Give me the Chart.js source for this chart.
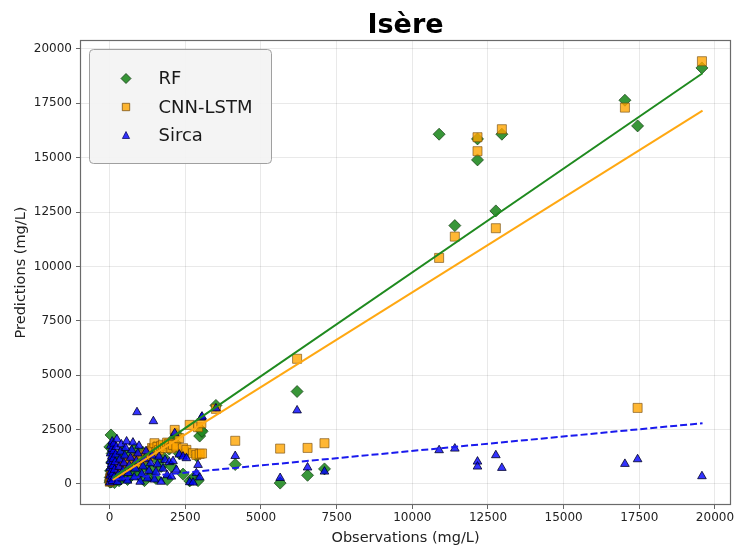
<!DOCTYPE html>
<html>
<head>
<meta charset="utf-8">
<script src="https://cdn.jsdelivr.net/npm/chart.js@4/dist/chart.umd.min.js"></script>
<style>
  body { margin: 0; background: #fff; }
  #wrap { width: 734px; height: 548px; }
</style>
</head>
<body>
<div id="wrap"><canvas id="chart" width="734" height="548"></canvas></div>
<script>
// observed concentrations (mg/L) and what each model predicted for them
var observations = [
  5, 12, 18, 24, 30, 38, 45, 52, 60, 68, 75, 83, 90, 98, 105, 115, 125, 135, 145, 160,
  180, 200, 220, 240, 260, 285, 310, 335, 360, 385, 410, 440, 470, 500,
  530, 560, 590, 620, 650, 690, 730, 770, 810, 850, 880, 903,
  930, 970, 1010, 1060, 1100, 1150, 1200, 1250, 1300,
  1350, 1400, 1444, 1480, 1530, 1580, 1630, 1700, 1760, 1830, 1900, 1970,
  2039, 2094, 2149, 2204, 2300, 2424, 2535, 2645, 2755, 2865, 2920, 2975, 3031, 3052,
  3511, 4149, 5633, 6193, 6539, 7098,
  10886, 11405, 12154, 12154, 12760, 12959, 17025, 17444, 19570
];
var rfPred = [
  1700, 80, 300, 150, 600, 200, 2250, 90, 450, 1000, 250, 1400, 120, 700, 350, 180, 900, 500, 1200, 60,
  300, 1100, 200, 650, 400, 900, 150, 1300, 550, 250, 800, 1500, 350, 700,
  450, 1000, 200, 1250, 600, 350, 1100, 800, 1600, 500, 950, 750,
  1300, 400, 1000, 700, 1450, 150, 900, 1200, 350,
  1550, 600, 1500, 1700, 250, 1100, 1650, 800, 1250, 1800, 200, 1600,
  796, 2050, 1900, 2300, 1400, 450, 1500, 138, 262, 1300, 150, 2200, 2451, 2414,
  3609, 892, 37, 4248, 395, 690,
  16078, 11876, 15862, 14897, 12552, 16078, 17641, 16460, 19126
];
var cnnPred = [
  100, 150, 220, 180, 300, 260, 350, 200, 400, 320, 450, 280, 380, 500, 420, 550, 480, 600, 350, 650,
  500, 700, 450, 600, 650, 550, 750, 600, 800, 700, 650, 850, 750, 900,
  800, 950, 850, 1000, 900, 1050, 950, 1100, 1000, 1150, 1050, 950,
  1100, 1200, 1150, 1250, 1300, 1200, 1350, 1400, 1300,
  1500, 1650, 1600, 1871, 1450, 1700, 1550, 1750, 1800, 1650, 1900, 1850,
  1641, 1793, 2483, 1715, 2100, 1640, 1563, 2713, 1411, 1333, 2607, 1380, 2790, 1400,
  3450, 1982, 1623, 5752, 1655, 1871,
  10391, 11370, 15940, 15297, 11756, 16308, 17301, 3494, 19434
];
var sircaPred = [
  60, 380, 720, 1050, 1400, 1750, 220, 560, 900, 1250, 1600, 1950, 130, 470, 820, 1150, 1500, 1850, 300, 650,
  1000, 1350, 1700, 2050, 90, 420, 780, 1120, 1480, 1820, 250, 600, 950, 1300,
  1650, 1950, 150, 500, 850, 1200, 1550, 1900, 300, 700, 1050, 3296,
  1400, 1750, 100, 450, 800, 1150, 1500, 250, 600,
  950, 1300, 2883, 200, 550, 900, 1250, 100, 700, 1100, 400, 1000,
  336, 1050, 2331, 650, 1350, 1255, 1182, 78, 60, 492, 873, 300, 3048, 3094,
  3471, 1283, 271, 3379, 754, 566,
  1549, 1623, 1026, 797, 1319, 736, 920, 1134, 354
];

// fitted lines, [x, y] at both ends
var rfFit = [[100, 280], [19590, 18880]];
var cnnFit = [[100, 184], [19590, 17163]];
var sircaFit = [[100, 200], [19590, 2790]];

var axisTicks = [0, 2500, 5000, 7500, 10000, 12500, 15000, 17500, 20000];

var legendItems = [
  { label: 'RF', style: 'diamond', fill: 'rgba(34,139,34,0.9)', edge: 'rgba(20,60,20,0.8)', r: 5 },
  { label: 'CNN-LSTM', style: 'square', fill: 'rgba(255,165,0,0.8)', edge: 'rgba(110,70,10,0.7)', r: 3.7 },
  { label: 'Sirca', style: 'triangle', fill: 'rgba(0,0,255,0.8)', edge: 'rgba(0,0,90,0.7)', r: 4 }
];

function pts(ys) {
  return observations.map(function(x, i) { return { x: x, y: ys[i] }; });
}
function line(p) {
  return p.map(function(d) { return { x: d[0], y: d[1] }; });
}

var FONT = '"DejaVu Sans", "Liberation Sans", sans-serif';

// matplotlib style box round the plot
var framePlugin = {
  id: 'frame',
  afterDraw: function(chart) {
    var a = chart.chartArea, ctx = chart.ctx;
    ctx.save();
    ctx.strokeStyle = '#6a6a6a';
    ctx.lineWidth = 1.2;
    ctx.strokeRect(a.left + 0.5, a.top + 0.5, a.right - a.left - 1, a.bottom - a.top - 1);
    ctx.restore();
  }
};

function marker(ctx, style, x, y, r) {
  ctx.beginPath();
  if (style === 'diamond') {
    ctx.moveTo(x, y - r); ctx.lineTo(x + r, y); ctx.lineTo(x, y + r); ctx.lineTo(x - r, y);
  } else if (style === 'square') {
    ctx.rect(x - r, y - r, 2 * r, 2 * r);
  } else {
    ctx.moveTo(x, y - r); ctx.lineTo(x + r * 0.9, y + r * 0.75); ctx.lineTo(x - r * 0.9, y + r * 0.75);
  }
  ctx.closePath();
  ctx.fill();
  ctx.stroke();
}

// legend box sitting inside the top left corner of the plot
var boxLegend = {
  id: 'boxLegend',
  afterDraw: function(chart) {
    var a = chart.chartArea, ctx = chart.ctx;
    var x = a.left + 9.5, y = a.top + 9.5, w = 182, h = 114, r = 4;
    ctx.save();
    ctx.beginPath();
    ctx.moveTo(x + r, y);
    ctx.arcTo(x + w, y, x + w, y + h, r);
    ctx.arcTo(x + w, y + h, x, y + h, r);
    ctx.arcTo(x, y + h, x, y, r);
    ctx.arcTo(x, y, x + w, y, r);
    ctx.closePath();
    ctx.fillStyle = 'rgba(243,243,243,0.93)';
    ctx.fill();
    ctx.strokeStyle = '#a0a0a0';
    ctx.lineWidth = 1;
    ctx.stroke();
    ctx.font = '18px ' + FONT;
    ctx.textBaseline = 'middle';
    legendItems.forEach(function(it, i) {
      var cy = y + 29 + i * 28.5;
      ctx.fillStyle = it.fill;
      ctx.strokeStyle = it.edge;
      ctx.lineWidth = 1;
      marker(ctx, it.style, x + 36.5, cy, it.r);
      ctx.fillStyle = '#1a1a1a';
      ctx.fillText(it.label, x + 69, cy + 1);
    });
    ctx.restore();
  }
};

function fixTicks(scale) {
  scale.ticks = axisTicks.map(function(v) { return { value: v }; });
}
function plain(v) { return String(v); }

new Chart(document.getElementById('chart'), {
  data: {
    datasets: [
      { type: 'line', data: line(rfFit), borderColor: '#1f8a1f', borderWidth: 2, pointRadius: 0, order: 0 },
      { type: 'line', data: line(cnnFit), borderColor: '#ffa812', borderWidth: 2, pointRadius: 0, order: 0 },
      { type: 'line', data: line(sircaFit), borderColor: '#1a1aee', borderWidth: 2, borderDash: [7, 3], pointRadius: 0, order: 0 },
      { type: 'scatter', label: 'Sirca', data: pts(sircaPred), pointStyle: 'triangle', radius: 5,
        backgroundColor: 'rgba(0,0,255,0.8)', borderColor: 'rgba(0,0,40,0.8)', borderWidth: 1, order: 1 },
      { type: 'scatter', label: 'CNN-LSTM', data: pts(cnnPred), pointStyle: 'rect', radius: 6.4,
        backgroundColor: 'rgba(255,165,0,0.8)', borderColor: 'rgba(110,70,10,0.6)', borderWidth: 1, order: 2 },
      { type: 'scatter', label: 'RF', data: pts(rfPred), pointStyle: 'rectRot', radius: 6,
        backgroundColor: 'rgba(34,139,34,0.9)', borderColor: 'rgba(20,60,20,0.7)', borderWidth: 1, order: 3 }
    ]
  },
  options: {
    responsive: false,
    animation: false,
    devicePixelRatio: 1,
    layout: { autoPadding: false, padding: { left: 0, right: 3, top: 0, bottom: 0 } },
    plugins: {
      legend: { display: false },
      tooltip: { enabled: false },
      title: {
        display: true,
        text: 'Isère',
        fullSize: false,
        color: '#000',
        font: { family: FONT, size: 27, weight: 'bold', lineHeight: 1.0 },
        padding: { top: 12.7, bottom: 0.3 }
      }
    },
    scales: {
      x: {
        type: 'linear',
        min: -980,
        max: 20530,
        afterBuildTicks: fixTicks,
        afterFit: function(s) { s.height = 43; s.paddingLeft = 0; s.paddingRight = 0; },
        grid: { color: 'rgba(0,0,0,0.085)', tickLength: 4, tickColor: '#666', lineWidth: 1 },
        border: { display: false },
        ticks: { font: { family: FONT, size: 12 }, color: '#222', padding: 2, maxRotation: 0, callback: plain },
        title: { display: true, text: 'Observations (mg/L)', color: '#222',
                 font: { family: FONT, size: 14.5 }, padding: { top: 0, bottom: 1.5 } }
      },
      y: {
        type: 'linear',
        min: -970,
        max: 20410,
        afterBuildTicks: fixTicks,
        afterFit: function(s) { s.width = 80; s.paddingTop = 0; s.paddingBottom = 0; },
        grid: { color: 'rgba(0,0,0,0.085)', tickLength: 4, tickColor: '#666', lineWidth: 1 },
        border: { display: false },
        ticks: { font: { family: FONT, size: 12 }, color: '#222', padding: 4, callback: plain },
        title: { display: true, text: 'Predictions (mg/L)', color: '#222',
                 font: { family: FONT, size: 14.5 }, padding: { top: 13, bottom: 0 } }
      }
    }
  },
  plugins: [framePlugin, boxLegend]
});
</script>
</body>
</html>
